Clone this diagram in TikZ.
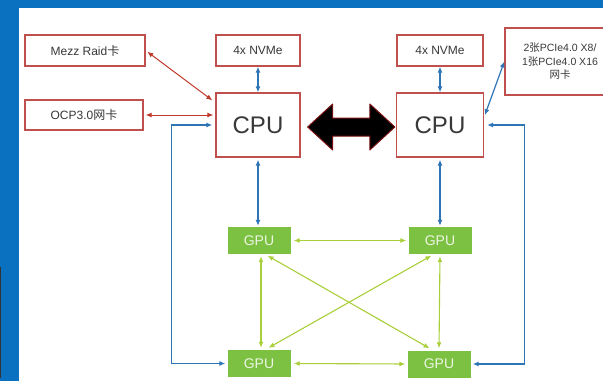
\documentclass[tikz,border=0pt]{standalone}
\usepackage{fontspec}
\setmainfont{Liberation Sans}
\newfontfamily\cjk{Noto Sans CJK SC}
\usetikzlibrary{arrows.meta,calc}
\definecolor{frameblue}{HTML}{0A70C0}
\definecolor{boxred}{HTML}{C0504D}
\definecolor{linkred}{HTML}{C0392B}
\definecolor{linkblue}{HTML}{2E75B6}
\definecolor{gpugreen}{HTML}{7DC142}
\definecolor{meshgreen}{HTML}{A9CF3B}
\definecolor{arrowrim}{HTML}{7A1010}

\begin{document}
\begin{tikzpicture}[x=1pt,y=-1pt,
		card/.style={draw=boxred,line width=1.3pt,fill=white,inner sep=0pt,text=black!78,font=\fontsize{12}{14}\selectfont},
		gpu/.style={fill=gpugreen,inner sep=0pt,minimum width=63pt,minimum height=27pt,text=white!85!gpugreen,font=\fontsize{14}{16}\selectfont},
		redlink/.style={linkred,line width=1pt,{Latex[length=6pt,width=5pt]}-{Latex[length=6pt,width=5pt]}},
		bluelink/.style={linkblue,line width=1.2pt,{Latex[length=6pt,width=5pt]}-{Latex[length=6pt,width=5pt]}},
		meshlink/.style={meshgreen,line width=1.1pt,{Latex[length=6pt,width=5pt]}-{Latex[length=6pt,width=5pt]}}]
	\useasboundingbox (0,0) rectangle (603,381);
	% screenshot frame
	\fill[frameblue] (0,0) rectangle (603,381);
	\fill[white] (19,8) rectangle (603,381);
	\draw[black!80,line width=1.2pt] (0.6,267) -- (0.6,378);
	% cards and cpus
	\node[card,minimum width=120pt,minimum height=31pt] (mezz) at (85,50.5) {Mezz Raid{\cjk 卡}};
	\node[card,minimum width=118pt,minimum height=30pt] (ocp) at (84,115) {OCP3.0{\cjk 网卡}};
	\node[card,minimum width=84pt,minimum height=31pt] (nvmeL) at (258,50.5) {4x NVMe};
	\node[card,minimum width=86pt,minimum height=31pt] (nvmeR) at (440,50.5) {4x NVMe};
	\node[card,minimum width=84pt,minimum height=64pt,font=\fontsize{24}{26}\selectfont] (cpuL) at (258,125) {CPU};
	\node[card,minimum width=87pt,minimum height=64pt,font=\fontsize{24}{26}\selectfont] (cpuR) at (440,125) {CPU};
	\node[card,minimum width=110pt,minimum height=67pt,align=center,font=\fontsize{10.5}{13.5}\selectfont] (nic) at (560,61.5)
		{2{\cjk 张}PCIe4.0 X8/\\1{\cjk 张}PCIe4.0 X16\\{\cjk 网卡}};
	% gpus
	\node[gpu] (gTL) at (259,240.5) {GPU};
	\node[gpu] (gTR) at (440,240.5) {GPU};
	\node[gpu] (gBL) at (259,363.5) {GPU};
	\node[gpu] (gBR) at (439,364) {GPU};
	% cpu interconnect
	\def\shaft{9} \def\head{23} \def\hl{25}
	\coordinate (aL) at ($(cpuL.east)+(7,2)$);
	\coordinate (aR) at ($(cpuR.west)+(-1,2)$);
	\filldraw[fill=black,draw=arrowrim,line width=1pt,line join=round]
		(aL) -- ($(aL)+(\hl,-\head)$) -- ($(aL)+(\hl,-\shaft)$) -- ($(aR)+(-\hl,-\shaft)$)
		-- ($(aR)+(-\hl,-\head)$) -- (aR) -- ($(aR)+(-\hl,\head)$) -- ($(aR)+(-\hl,\shaft)$)
		-- ($(aL)+(\hl,\shaft)$) -- ($(aL)+(\hl,\head)$) -- cycle;
	% red links
	\draw[redlink,shorten <=2pt] (mezz.east) -- ($(cpuL.north west)+(-3,8)$);
	\draw[redlink,shorten <=2pt,shorten >=2pt] (ocp.east) -- (ocp.east -| cpuL.west);
	% blue links
	\draw[bluelink] (nvmeL.south) -- (cpuL.north);
	\draw[bluelink] (nvmeR.south) -- (cpuR.north);
	\draw[bluelink,shorten <=2pt,shorten >=1pt] (cpuL.south) -- (cpuL.south |- gTL.north);
	\draw[bluelink,shorten <=2pt,shorten >=1pt] (cpuR.south) -- (cpuR.south |- gTR.north);
	\draw[bluelink,shorten <=2pt] ($(cpuR.east)+(0,-8)$) -- (nic.west);
	\draw[bluelink,shorten <=3pt,shorten >=2pt] (cpuL.west) -- ++(-44,0) |- (gBL.west);
	\draw[bluelink,shorten <=3pt,shorten >=2pt] (cpuR.east) -- ++(40,0) |- (gBR.east);
	% gpu mesh
	\draw[meshlink,shorten <=3pt,shorten >=2pt] (gTL.east) -- (gTR.west);
	\draw[meshlink,shorten <=3pt,shorten >=2pt] (gBL.east) -- (gBR.west);
	\draw[meshlink,shorten <=2pt,shorten >=2pt] ([xshift=2pt]gTL.south) -- ([xshift=2pt]gBL.north);
	\draw[meshlink,shorten <=2pt,shorten >=2pt] (gTR.south) -- (gBR.north);
	\draw[meshlink,shorten <=3pt,shorten >=4pt] ([xshift=6pt]gTL.south) -- ([xshift=-6pt]gBR.north);
	\draw[meshlink,shorten <=3pt,shorten >=4pt] ([xshift=-6pt]gTR.south) -- ([xshift=6pt]gBL.north);
\end{tikzpicture}
\end{document}
